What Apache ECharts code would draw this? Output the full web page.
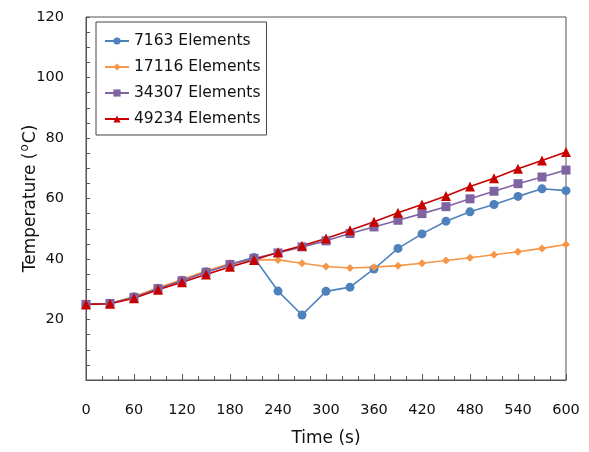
<!DOCTYPE html>
<html>
<head>
<meta charset="utf-8">
<script src="https://cdn.jsdelivr.net/npm/echarts@6/dist/echarts.min.js"></script>
<style>
html, body { margin: 0; padding: 0; background: #fff; }
#chart { width: 589px; height: 452px; }
</style>
</head>
<body>
<div id="chart"></div>
<script>
// time steps (s)
var times = [0, 30, 60, 90, 120, 150, 180, 210, 240, 270, 300, 330, 360, 390, 420, 450, 480, 510, 540, 570, 600];
var seriesNames = ['7163 Elements', '17116 Elements', '34307 Elements', '49234 Elements'];
// temperatures (°C)
var temp7163 = [25, 25.3, 27.5, 30.3, 33, 35.8, 38.3, 40.5, 29.4, 21.5, 29.3, 30.7, 36.7, 43.5, 48.3, 52.5, 55.6, 58, 60.7, 63.2, 62.6];
var temp17116 = [25, 25.3, 27.5, 30.5, 33.2, 36, 38.5, 39.8, 39.7, 38.6, 37.5, 37, 37.3, 37.8, 38.6, 39.5, 40.4, 41.4, 42.4, 43.5, 44.8];
var temp34307 = [25, 25.3, 27.3, 30.2, 32.8, 35.6, 38.2, 40.2, 42, 44, 46, 48.4, 50.6, 52.8, 55, 57.3, 59.9, 62.4, 64.9, 67.1, 69.4];
var temp49234 = [25, 25.2, 27, 29.8, 32.3, 34.9, 37.4, 39.7, 42.2, 44.4, 46.8, 49.5, 52.3, 55.3, 58, 60.8, 64, 66.7, 69.8, 72.6, 75.4];
var yTicks = [0, 20, 40, 60, 80, 100, 120];

var colors = ['#4F81BD', '#F79646', '#8064A2', '#C80000'];
var symbols = ['circle', 'diamond', 'rect', 'triangle'];
var symbolSizes = [9, 8, 9, 10];
var allTemps = [temp7163, temp17116, temp34307, temp49234];

function pairs(vals) {
	var out = [];
	for(var i = 0; i < times.length; i++) {
		out.push([times[i], vals[i]]);
	}
	return out;
}

var series = [];
for(var k = 0; k < seriesNames.length; k++) {
	series.push({
		name: seriesNames[k],
		type: 'line',
		data: pairs(allTemps[k]),
		symbol: symbols[k],
		symbolSize: symbolSizes[k],
		showAllSymbol: true,
		itemStyle: { color: colors[k] },
		lineStyle: { color: colors[k], width: 1.6 }
	});
}

var myChart = echarts.init(document.getElementById('chart'));
var font = 'DejaVu Sans';
var option = {
	animation: false,
	color: colors,
	textStyle: { fontFamily: font },
	grid: {
		left: 86, right: 23, top: 17, bottom: 68,
		show: true, borderColor: '#555', borderWidth: 1
	},
	legend: {
		orient: 'vertical',
		left: 96, top: 22,
		padding: [11, 6, 8, 8],
		itemWidth: 24, itemHeight: 9,
		itemGap: 10,
		borderColor: '#444', borderWidth: 1,
		backgroundColor: '#fff',
		textStyle: { fontFamily: font, fontSize: 15.5, color: '#111' },
		data: seriesNames
	},
	xAxis: {
		type: 'value',
		min: 0, max: 600, interval: 60,
		name: 'Time (s)',
		nameLocation: 'middle',
		nameGap: 50,
		nameMoveOverlap: false,
		nameTextStyle: { fontFamily: font, fontSize: 17, color: '#111' },
		axisLine: { show: true, lineStyle: { color: '#555' } },
		axisTick: { show: true, inside: true, length: 6, lineStyle: { color: '#555' } },
		minorTick: { show: true, splitNumber: 3, length: 4, lineStyle: { color: '#555' } },
		axisLabel: { margin: 23, fontFamily: font, fontSize: 14.5, color: '#111' },
		splitLine: { show: false }
	},
	yAxis: {
		type: 'value',
		min: yTicks[0], max: yTicks[yTicks.length - 1], interval: 20,
		name: '{n|Temperature (}{s|o}{n|C)}',
		nameLocation: 'middle',
		nameGap: 43,
		nameMoveOverlap: false,
		nameRotate: 90,
		nameTextStyle: {
			rich: {
				n: { fontFamily: font, fontSize: 17, color: '#111' },
				s: { fontFamily: font, fontSize: 12, color: '#111', verticalAlign: 'top', padding: [0, 1, 12, 1] }
			}
		},
		axisLine: { show: true, lineStyle: { color: '#555' } },
		axisTick: { show: true, inside: true, length: 4, lineStyle: { color: '#555' } },
		minorTick: { show: true, splitNumber: 4, length: 4, lineStyle: { color: '#555' } },
		axisLabel: {
			margin: 22, fontFamily: font, fontSize: 14.5, color: '#111',
			formatter: function(v) { return v === 0 ? '' : String(v); }
		},
		splitLine: { show: false }
	},
	series: series
};
myChart.setOption(option);
window.onresize = myChart.resize;
</script>
</body>
</html>
